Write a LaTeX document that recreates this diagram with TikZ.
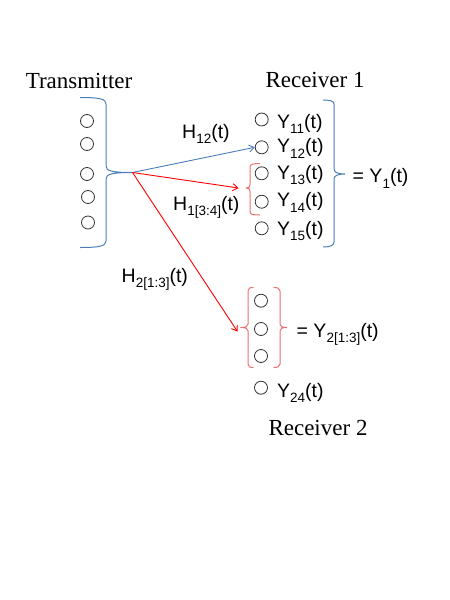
\documentclass[tikz,border=0pt]{standalone}
\usepackage{fontspec}
\setmainfont{Liberation Serif}
\newfontfamily\arialf{Liberation Sans}
\usetikzlibrary{arrows.meta}
\definecolor{bbl}{RGB}{74,126,187}
\definecolor{rbr}{RGB}{236,112,112}
\newcommand\sbs[1]{\raisebox{-0.3em}{\fontsize{13.5}{13.5}\selectfont #1}}
\tikzset{
  ant/.style={circle,draw=black!80,line width=0.8pt,minimum size=13pt,inner sep=0pt},
  serifl/.style={font=\fontsize{23}{27}\selectfont,inner sep=0pt,anchor=base},
  sansl/.style={font=\arialf\fontsize{19.5}{23}\selectfont,inner sep=0pt,anchor=base west},
  bluebrace/.style={draw=bbl,line width=1pt},
  redbrace/.style={draw=rbr,line width=1pt},
  barrow/.style={draw=bbl,line width=0.9pt,-{Straight Barb[length=5pt,width=7pt]}},
  rarrow/.style={draw=red,line width=0.9pt,-{Straight Barb[length=5pt,width=7pt]}}
}
\begin{document}
\begin{tikzpicture}[x=1pt,y=-1pt]
\useasboundingbox (0,0) rectangle (450,600);
% labels
\node[serifl] (tlab) at (79,88) {Transmitter};
\node[serifl] (r1lab) at (315,87) {Receiver 1};
\node[serifl] (r2lab) at (318,435) {Receiver 2};
% transmitter antennas
\node[ant] (t1) at (87,121) {};
\node[ant] (t2) at (87,144) {};
\node[ant] (t3) at (87,174) {};
\node[ant] (t4) at (88,197) {};
\node[ant] (t5) at (88,222.5) {};
% receiver 1 antennas
\node[ant] (r11) at (261.7,119.5) {};
\node[ant] (r12) at (261.7,147.3) {};
\node[ant] (r13) at (261.7,173.3) {};
\node[ant] (r14) at (261.7,201.7) {};
\node[ant] (r15) at (261.7,228.3) {};
\node[sansl] (y11) at (277,128) {Y\sbs{11}(t)};
\node[sansl] (y12) at (277,152.5) {Y\sbs{12}(t)};
\node[sansl] (y13) at (277,179) {Y\sbs{13}(t)};
\node[sansl] (y14) at (277,206.5) {Y\sbs{14}(t)};
\node[sansl] (y15) at (277,235) {Y\sbs{15}(t)};
\node[sansl] (y1) at (352.5,182.5) {= Y\sbs{1}(t)};
% receiver 2 antennas
\node[ant] (r21) at (261,300.7) {};
\node[ant] (r22) at (261,329) {};
\node[ant] (r23) at (261,356) {};
\node[ant] (r24) at (261,387.7) {};
\node[sansl] (y24) at (277,397) {Y\sbs{24}(t)};
\node[sansl] (y2) at (296.5,337) {= Y\sbs{2[1:3]}(t)};
% channel labels
\node[sansl] (h12) at (182,138) {H\sbs{12}(t)};
\node[sansl] (h134) at (173,210) {H\sbs{1[3:4]}(t)};
\node[sansl] (h213) at (121.5,282) {H\sbs{2[1:3]}(t)};
% braces
\coordinate (tx) at (132.5,172.5);
\draw[bluebrace] (80,97.5) .. controls (100,97.5) and (106,99) .. (106,104) -- (106,166)
  .. controls (106,171) and (112,172.5) .. (tx)
  .. controls (112,172.5) and (106,174) .. (106,179) -- (106,241)
  .. controls (106,246) and (100,247.5) .. (80,247.5);
\coordinate (r1tip) at (345,174);
\draw[bluebrace] (323,100) .. controls (330,100) and (334,101) .. (334,104) -- (334,169)
  .. controls (334,172.5) and (338,174) .. (r1tip)
  .. controls (338,174) and (334,175.5) .. (334,179) -- (334,242)
  .. controls (334,245.5) and (330,247) .. (323,247);
\coordinate (r13tip) at (246.5,188);
\draw[redbrace] (260,163.5) .. controls (254,163.5) and (250,164) .. (250,167) -- (250,184.5)
  .. controls (250,187) and (249,188) .. (r13tip)
  .. controls (249,188) and (250,189) .. (250,191.5) -- (250,212)
  .. controls (250,214.5) and (254,215) .. (260,215);
\coordinate (r2tip) at (240.5,327.5);
\draw[redbrace] (253.5,287.5) .. controls (250,287.5) and (248,288) .. (248,291) -- (248,324)
  .. controls (248,326.5) and (246,327.5) .. (r2tip)
  .. controls (246,327.5) and (248,328.5) .. (248,331) -- (248,364)
  .. controls (248,367) and (250,367.5) .. (253.5,367.5);
\draw[redbrace] (273.5,287.5) .. controls (277,287.5) and (280,288) .. (280,291) -- (280,324)
  .. controls (280,326.5) and (282,327.5) .. (287,327.5)
  .. controls (282,327.5) and (280,328.5) .. (280,331) -- (280,364)
  .. controls (280,367) and (277,367.5) .. (273.5,367.5);
% channel arrows
\draw[barrow] (tx) -- (r12.west);
\draw[rarrow] (tx) -- ([xshift=-8pt]r13tip);
\draw[rarrow] (tx) -- ([xshift=-3pt,yshift=-4pt]r2tip);
\end{tikzpicture}
\end{document}
